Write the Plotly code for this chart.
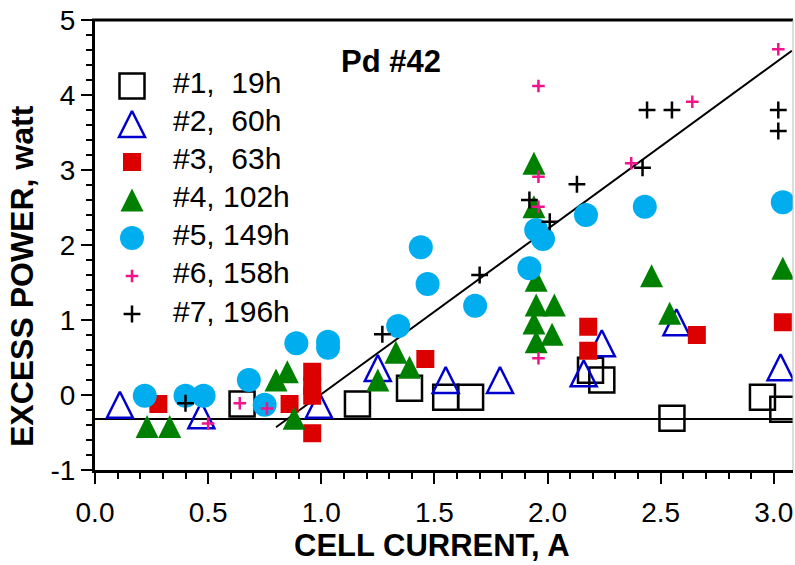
import plotly.graph_objects as go

# ---------------- data ----------------
labels = ["#1,\u00a0 19h", "#2,\u00a0 60h", "#3,\u00a0 63h", "#4, 102h", "#5, 149h", "#6, 158h", "#7, 196h"]

s1_x = [0.65, 1.16, 1.39, 1.55, 1.66, 2.19, 2.24, 2.55, 2.95, 3.04]
s1_y = [-0.12, -0.12, 0.09, -0.03, -0.03, 0.33, 0.20, -0.31, -0.03, -0.19]

s2_x = [0.11, 0.47, 0.99, 1.25, 1.55, 1.79, 2.16, 2.24, 2.57, 3.03]
s2_y = [-0.13, -0.27, -0.13, 0.36, 0.20, 0.20, 0.29, 0.69, 0.97, 0.37]

s3_x = [0.28, 0.86, 0.96, 0.96, 0.96, 0.96, 1.46, 2.18, 2.18, 2.66, 3.04]
s3_y = [-0.12, -0.12, 0.31, 0.12, -0.01, -0.51, 0.48, 0.91, 0.59, 0.80, 0.97]

s4_x = [0.23, 0.33, 0.80, 0.85, 0.88, 1.25, 1.33, 1.39, 1.94, 1.94, 1.95, 1.95, 2.03, 1.94, 2.02, 1.95, 2.46, 2.54, 3.04]
s4_y = [-0.42, -0.42, 0.20, 0.31, -0.31, 0.20, 0.57, 0.37, 3.09, 2.51, 1.53, 1.20, 1.20, 0.96, 0.81, 0.71, 1.59, 1.09, 1.69]

s5_x = [0.22, 0.40, 0.48, 0.75, 0.68, 0.89, 1.03, 1.03, 1.34, 1.44, 1.47, 1.68, 1.92, 1.98, 1.95, 2.17, 2.43, 3.04]
s5_y = [-0.01, -0.01, -0.01, -0.13, 0.20, 0.69, 0.71, 0.63, 0.92, 1.97, 1.48, 1.19, 1.69, 2.08, 2.20, 2.40, 2.51, 2.57]

s6_x = [0.50, 0.64, 0.76, 1.96, 1.96, 1.96, 1.96, 2.37, 2.64, 3.02]
s6_y = [-0.38, -0.11, -0.18, 4.12, 2.91, 2.51, 0.49, 3.09, 3.91, 4.61]

s7_x = [0.40, 1.27, 1.70, 1.92, 2.01, 2.13, 2.42, 2.44, 2.55, 3.02, 3.02]
s7_y = [-0.11, 0.81, 1.60, 2.60, 2.31, 2.81, 3.03, 3.80, 3.80, 3.80, 3.52]

fit_x = [0.80, 3.08]
fit_y = [-0.43, 4.59]
base_x = [0.0, 3.1]
base_y = [-0.32, -0.32]

x_tick_vals = [0.0, 0.5, 1.0, 1.5, 2.0, 2.5, 3.0]
x_tick_text = ["0.0", "0.5", "1.0", "1.5", "2.0", "2.5", "3.0"]
y_tick_vals = [-1, 0, 1, 2, 3, 4, 5]
y_tick_text = ["-1", "0", "1", "2", "3", "4", "5"]

x_title = "CELL CURRENT, A"
y_title = "EXCESS POWER, watt"
panel_title = "Pd #42"

# ---------------- styles ----------------
FONT = "Liberation Sans, Arial, sans-serif"
# upward triangles with width == height: arrow-down rotated 180deg,
# standoff = half size so the triangle is centred on its point
marker_styles = [
    dict(symbol="square-open", size=25, color="black", line=dict(width=2.5, color="black")),
    dict(symbol="arrow-down-open", size=26, angle=180, standoff=13, color="#0000CC",
         line=dict(width=2.5, color="#0000CC")),
    dict(symbol="square", size=18, color="#DD0000", line=dict(width=0)),
    dict(symbol="arrow-down", size=23, angle=180, standoff=11.5, color="#008000", line=dict(width=0)),
    dict(symbol="circle", size=24, color="#00AEEF", line=dict(width=0)),
    dict(symbol="cross-thin", size=9, color="#F0148C", line=dict(width=2.5, color="#F0148C")),
    dict(symbol="cross-thin", size=12, color="black", line=dict(width=2.5, color="black")),
]
series = [(s1_x, s1_y), (s2_x, s2_y), (s3_x, s3_y), (s4_x, s4_y),
          (s5_x, s5_y), (s6_x, s6_y), (s7_x, s7_y)]

fig = go.Figure()

# reference lines (under markers)
fig.add_trace(go.Scatter(x=base_x, y=base_y, mode="lines",
                         line=dict(color="black", width=2), showlegend=False, hoverinfo="skip"))
fig.add_trace(go.Scatter(x=fit_x, y=fit_y, mode="lines",
                         line=dict(color="black", width=2), showlegend=False, hoverinfo="skip"))

for (xs, ys), ms, lab in zip(series, marker_styles, labels):
    fig.add_trace(go.Scatter(x=xs, y=ys, mode="markers", marker=ms, name=lab, showlegend=False))

# custom legend on a hidden pixel-unit subplot
LEG_MARKER_X = 37
LEG_TEXT_X = 78
for i, (ms, lab) in enumerate(zip(marker_styles, labels)):
    fig.add_trace(go.Scatter(x=[LEG_MARKER_X], y=[i], mode="markers", marker=ms,
                             xaxis="x2", yaxis="y2", showlegend=False, hoverinfo="skip",
                             cliponaxis=False))
fig.add_trace(go.Scatter(x=[LEG_TEXT_X] * len(labels), y=list(range(len(labels))),
                         mode="text", text=labels, textposition="middle right",
                         textfont=dict(family=FONT, size=30, color="black"),
                         xaxis="x2", yaxis="y2", showlegend=False, hoverinfo="skip",
                         cliponaxis=False))

axis_common = dict(showgrid=False, zeroline=False, showline=True, linecolor="black",
                   linewidth=3, ticks="outside", tickwidth=2, ticklen=11, tickcolor="black",
                   ticklabeloverflow="allow",
                   tickfont=dict(family=FONT, size=28, color="black"))

fig.update_layout(
    width=795, height=565,
    margin=dict(l=95, r=2, t=20, b=95),
    paper_bgcolor="white", plot_bgcolor="rgba(0,0,0,0)",
    showlegend=False,
    xaxis=dict(range=[0, 3.085], tickvals=x_tick_vals, ticktext=x_tick_text, ticklabelstandoff=4,
               minor=dict(dtick=0.1, ticks="outside", ticklen=6, tickwidth=2, tickcolor="black"),
               **axis_common),
    yaxis=dict(range=[-1, 5], tickvals=y_tick_vals, ticktext=y_tick_text,
               minor=dict(dtick=0.2, ticks="outside", ticklen=6, tickwidth=2, tickcolor="black"),
               **axis_common),
    xaxis2=dict(domain=[0, 1], range=[0, 698], anchor="y2", visible=False, fixedrange=True),
    yaxis2=dict(domain=[0.3044, 0.8956], range=[6.5, -0.5], anchor="x2", visible=False, fixedrange=True),
    annotations=[
        dict(text="<b>" + panel_title + "</b>", xref="paper", yref="paper", x=0.424, y=0.907,
             xanchor="center", yanchor="middle", showarrow=False,
             font=dict(family=FONT, size=31, color="black")),
        dict(text="<b>" + x_title + "</b>", xref="paper", yref="paper", x=0.483, y=-0.168,
             xanchor="center", yanchor="middle", showarrow=False,
             font=dict(family=FONT, size=31, color="black")),
        dict(text="<b>" + y_title + "</b>", xref="paper", yref="paper", x=-0.1046, y=0.431,
             xanchor="center", yanchor="middle", showarrow=False, textangle=-90,
             font=dict(family=FONT, size=32, color="black")),
    ],
    shapes=[
        dict(type="line", xref="paper", yref="paper", x0=-0.0043, x1=1, y0=1, y1=1,
             line=dict(color="black", width=3)),
        dict(type="line", xref="paper", yref="paper", x0=1, x1=1, y0=0, y1=1,
             line=dict(color="#BBBBBB", width=1)),
    ],
)

fig.write_html("out.html", config={"displayModeBar": False},
               post_script="document.body.style.margin='0px';document.body.style.overflow='hidden';")
